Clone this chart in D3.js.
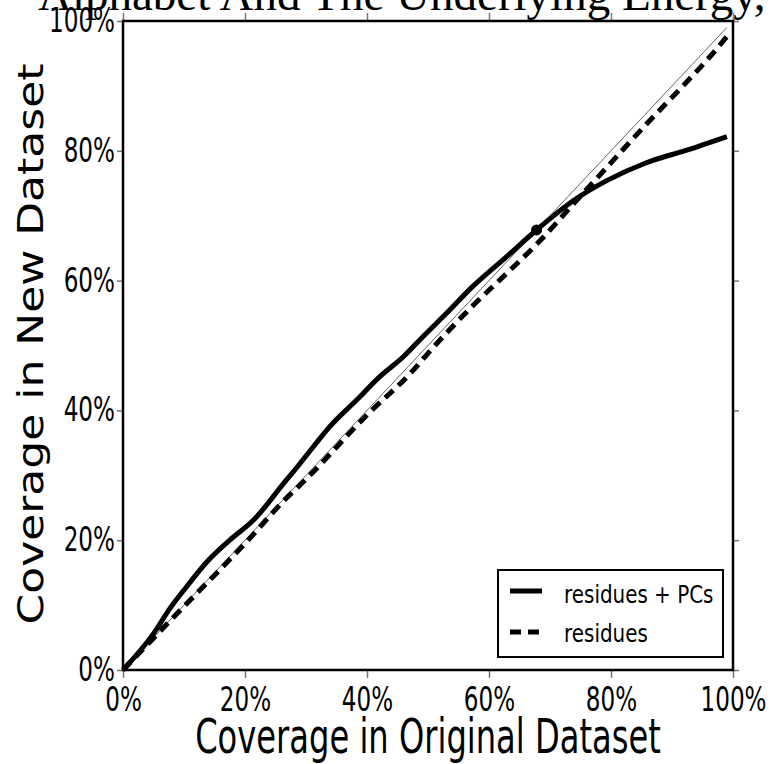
<!DOCTYPE html>
<html>
<head>
<meta charset="utf-8">
<script src="https://cdn.jsdelivr.net/npm/d3@7"></script>
<style>
  body { margin: 0; background: #fff; }
  svg { display: block; }
</style>
</head>
<body>
<div class="chart"></div>
<script>
// coverage values (%)
var pcX = [0, 5, 7.7, 10.4, 14, 17.5, 21.4, 26.8, 28.5, 31.2, 33.9, 38.3, 42.1, 46, 49.2, 53.6, 57, 62.9, 67.8, 73.8, 79.3, 85.9, 92.4, 99]
var pcY = [0, 5.6, 9.5, 12.8, 16.9, 20, 23.1, 29.3, 31.2, 34.4, 37.5, 41.6, 45.2, 48.3, 51.4, 55.5, 58.8, 63.7, 67.8, 72.3, 75.4, 78.2, 80.1, 82.2]
var resX = [0, 5, 10, 15, 20, 26.8, 30, 40, 47.6, 50, 57, 63, 67.8, 74.6, 78.2, 85.9, 92, 96.5, 99]
var resY = [0, 4.9, 9.8, 14.6, 19.5, 26.5, 29.4, 39.3, 46.2, 48.8, 55.8, 61.2, 65.6, 72.6, 76.3, 84.2, 90.2, 94.8, 97.6]
var markX = [67.8]
var markY = [67.8]
var tickVals = [0, 20, 40, 60, 80, 100]
var seriesNames = ["residues + PCs", "residues"]

var W = 771, H = 764
var margin = { top: 21, right: 38, bottom: 94, left: 123 }
var sx = 0.7 // glyphs look squeezed sideways

var svg = d3.select(".chart").append("svg")
    .attr("width", W)
    .attr("height", H)

var x = d3.scaleLinear().domain([0, 100]).range([margin.left, W - margin.right])
var y = d3.scaleLinear().domain([0, 100]).range([H - margin.bottom, margin.top])

// title, clipped by the top of the page
svg.append("text")
    .attr("x", 38)
    .attr("y", 10)
    .style("font-family", "Liberation Serif")
    .style("font-size", "47px")
    .text("Alphabet And The Underlying Energy,")

// ticks on all four sides
var fmt = function (d) { return d + "%" }
function styleAxis(g) {
    g.select(".domain").remove()
    g.selectAll(".tick line").attr("stroke", "#777").attr("stroke-width", 1.5)
}
svg.append("g")
    .attr("transform", "translate(0," + y(0) + ")")
    .call(d3.axisBottom(x).tickValues(tickVals).tickFormat(fmt).tickSize(8).tickPadding(10))
    .call(styleAxis)
    .call(g => g.selectAll("text")
        .attr("transform", "scale(" + sx + ",1)")
        .style("font-family", "DejaVu Sans").style("font-size", "33px").attr("fill", "#000"))
svg.append("g")
    .attr("transform", "translate(" + x(0) + ",0)")
    .call(d3.axisLeft(y).tickValues(tickVals).tickFormat(fmt).tickSize(6))
    .call(styleAxis)
    .call(g => g.selectAll("text")
        .attr("x", -8 / sx)
        .attr("transform", "scale(" + sx + ",1)")
        .style("font-family", "DejaVu Sans").style("font-size", "33px").attr("fill", "#000"))
svg.append("g")
    .attr("transform", "translate(0," + y(100) + ")")
    .call(d3.axisTop(x).tickValues(tickVals).tickFormat("").tickSize(8))
    .call(styleAxis)
svg.append("g")
    .attr("transform", "translate(" + x(100) + ",0)")
    .call(d3.axisRight(y).tickValues(tickVals).tickFormat("").tickSize(6))
    .call(styleAxis)

// diagonal reference
svg.append("line")
    .attr("x1", x(0)).attr("y1", y(0))
    .attr("x2", x(99)).attr("y2", y(99))
    .attr("stroke", "#666")
    .attr("stroke-width", 1)

var line = d3.line()
    .x(function (d) { return x(d[0]) })
    .y(function (d) { return y(d[1]) })
    .curve(d3.curveMonotoneX)

svg.append("path")
    .datum(resX.map(function (v, i) { return [v, resY[i]] }))
    .attr("d", line)
    .attr("fill", "none")
    .attr("stroke", "#000")
    .attr("stroke-width", 5)
    .attr("stroke-dasharray", "11,7")

svg.append("path")
    .datum(pcX.map(function (v, i) { return [v, pcY[i]] }))
    .attr("d", line)
    .attr("fill", "none")
    .attr("stroke", "#000")
    .attr("stroke-width", 5)
    .attr("stroke-linejoin", "round")

svg.selectAll(".mark")
    .data(markX)
    .join("circle")
    .attr("cx", function (d) { return x(d) })
    .attr("cy", function (d, i) { return y(markY[i]) })
    .attr("r", 5.5)
    .attr("fill", "#000")

// frame
svg.append("rect")
    .attr("x", x(0)).attr("y", y(100))
    .attr("width", x(100) - x(0))
    .attr("height", y(0) - y(100))
    .attr("fill", "none")
    .attr("stroke", "#000")
    .attr("stroke-width", 2.5)

// axis titles
svg.append("text")
    .attr("transform", "translate(" + ((x(0) + x(100)) / 2) + ",753) scale(0.67,1)")
    .attr("text-anchor", "middle")
    .style("font-family", "DejaVu Sans")
    .style("font-size", "48px")
    .text("Coverage in Original Dataset")

svg.append("text")
    .attr("transform", "translate(43,344) rotate(-90) scale(1,0.82)")
    .attr("text-anchor", "middle")
    .style("font-family", "DejaVu Sans")
    .style("font-size", "44px")
    .text("Coverage in New Dataset")

// legend
var leg = svg.append("g").attr("transform", "translate(498,570)")
leg.append("rect")
    .attr("width", 225).attr("height", 87)
    .attr("fill", "#fff").attr("stroke", "#000").attr("stroke-width", 2)
leg.selectAll(".key")
    .data(seriesNames)
    .join("line")
    .attr("x1", 12).attr("x2", 44)
    .attr("y1", function (d, i) { return 21 + i * 41 })
    .attr("y2", function (d, i) { return 21 + i * 41 })
    .attr("stroke", "#000").attr("stroke-width", 5)
    .attr("stroke-dasharray", function (d, i) { return i ? "11,7" : null })
leg.selectAll(".lab")
    .data(seriesNames)
    .join("text")
    .attr("transform", function (d, i) { return "translate(66," + (33 + i * 39) + ") scale(0.83,1)" })
    .style("font-family", "DejaVu Sans")
    .style("font-size", "24px")
    .text(function (d) { return d })
</script>
</body>
</html>
